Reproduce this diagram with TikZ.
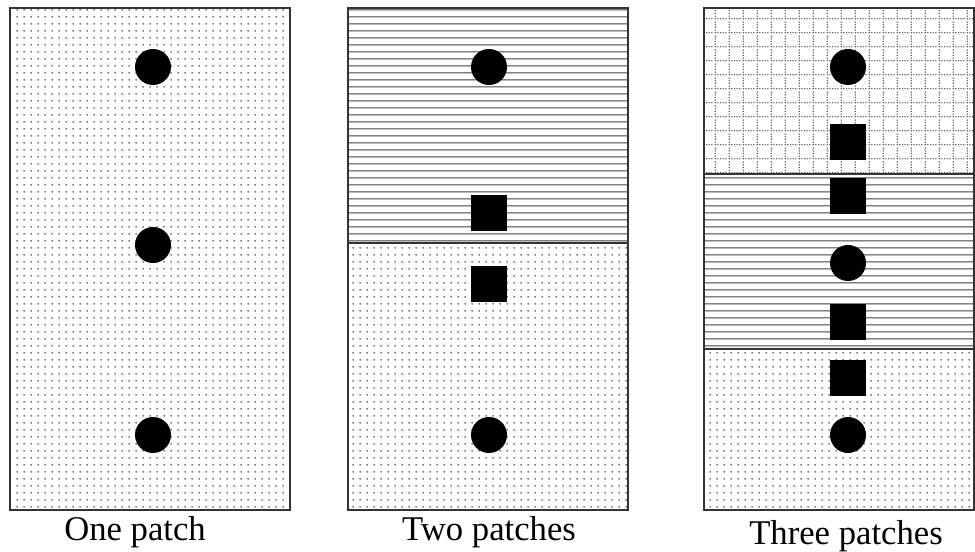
\documentclass[tikz,border=0pt]{standalone}
\usepackage{fontspec}
\setmainfont{Liberation Serif}
\usetikzlibrary{patterns}
\pgfdeclarepatternformonly{mydots}{\pgfqpoint{0pt}{0pt}}{\pgfqpoint{5.25pt}{5.25pt}}{\pgfqpoint{5.25pt}{5.25pt}}{%
  \pgfpathcircle{\pgfqpoint{2.625pt}{2.625pt}}{0.75pt}\pgfusepath{fill}}
\pgfdeclarepatternformonly{myhlines}{\pgfqpoint{0pt}{0pt}}{\pgfqpoint{10pt}{5.25pt}}{\pgfqpoint{10pt}{5.25pt}}{%
  \pgfsetlinewidth{0.95pt}\pgfpathmoveto{\pgfqpoint{-0.5pt}{2.625pt}}\pgfpathlineto{\pgfqpoint{10.5pt}{2.625pt}}\pgfusepath{stroke}}
\pgfdeclarepatternformonly{mygrid}{\pgfqpoint{0pt}{0pt}}{\pgfqpoint{10.5pt}{10.5pt}}{\pgfqpoint{10.5pt}{10.5pt}}{%
  \foreach \k in {1.05,3.15,5.25,7.35,9.45}{%
    \pgfpathcircle{\pgfqpoint{\k pt}{1pt}}{0.6pt}%
    \pgfpathcircle{\pgfqpoint{1pt}{\k pt}}{0.6pt}}%
  \pgfusepath{fill}}
\begin{document}
\begin{tikzpicture}[x=0.75pt,y=-0.75pt,
  frame/.style={draw=black!80,line width=1.1pt},
  dotfill/.style={pattern=mydots,pattern color=black!70},
  linefill/.style={pattern=myhlines,pattern color=black!75},
  gridfill/.style={pattern=mygrid,pattern color=black!70},
  ball/.style={circle,fill=black,inner sep=0pt,minimum size=27pt},
  block/.style={rectangle,fill=black,inner sep=0pt,minimum size=27pt},
  lab/.style={font=\fontsize{26}{30}\selectfont,anchor=base}]
\useasboundingbox[fill=white] (0,0) rectangle (975,552);
% panel 1
\fill[dotfill] (10,8) rectangle (290,510);
\draw[frame] (10,8) rectangle (290,510);
\node[ball] (a1) at (153,67) {};
\node[ball] (a2) at (153,245) {};
\node[ball] (a3) at (153,435) {};
\node[lab] (l1) at (135,540) {One patch};
% panel 2
\fill[linefill] (348,8) rectangle (628,243);
\fill[dotfill] (348,243) rectangle (628,510);
\draw[frame] (348,8) rectangle (628,510);
\draw[frame] (348,243) -- (628,243);
\node[ball] (b1) at (489,67) {};
\node[block] (b2) at (489,213) {};
\node[block] (b3) at (489,284) {};
\node[ball] (b4) at (489,435) {};
\node[lab] (l2) at (489,540) {Two patches};
% panel 3
\fill[gridfill] (704,8) rectangle (974,174);
\fill[linefill] (704,174) rectangle (974,349);
\fill[dotfill] (704,349) rectangle (974,510);
\draw[frame] (704,8) rectangle (974,510);
\draw[frame] (704,174) -- (974,174);
\draw[frame] (704,349) -- (974,349);
\node[ball] (c1) at (848,67) {};
\node[block] (c2) at (848,142) {};
\node[block] (c3) at (848,196) {};
\node[ball] (c4) at (848,263) {};
\node[block] (c5) at (848,322) {};
\node[block] (c6) at (848,378) {};
\node[ball] (c7) at (848,435) {};
\node[lab] (l3) at (846,544) {Three patches};
\end{tikzpicture}
\end{document}
